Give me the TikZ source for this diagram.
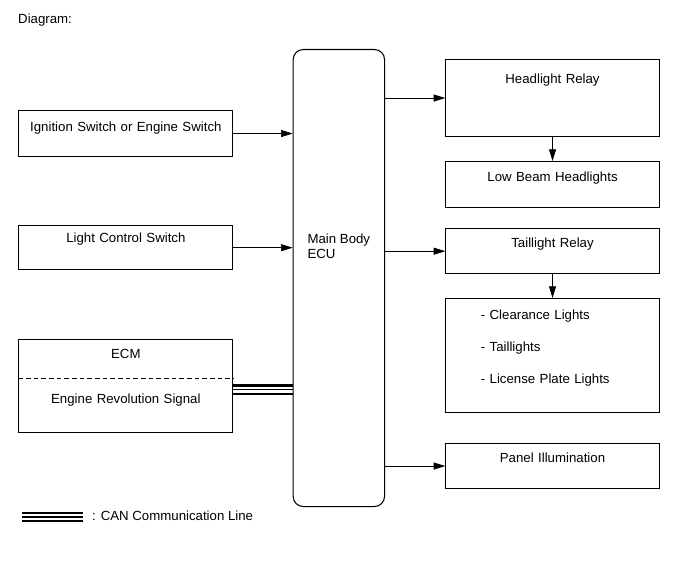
\documentclass[tikz,border=0pt]{standalone}
\usepackage{fontspec}
\setmainfont{Liberation Sans}
\usetikzlibrary{arrows.meta,calc}

\begin{document}
\begin{tikzpicture}[font=\fontsize{11.3}{13.6}\selectfont,
  rec/.style={draw,line width=0.9pt,anchor=north west,inner xsep=0pt,inner ysep=0pt,
    align=center,text width=#1},
  rec/.default=6.42cm,
  arr/.style={-{Triangle[length=3.5mm,width=2.1mm]},line width=0.6pt},
  can/.style={line width=#1}]
\useasboundingbox (0,0) rectangle (20.73,-16.92);
\node[anchor=base west,inner sep=0pt] (title) at (0.54,-0.70) {Diagram:};
% inputs
\node[rec,text height=0.63cm,text depth=0.75cm] (ign) at (0.55,-3.30)
  {Ignition Switch or Engine Switch};
\node[rec,text height=0.50cm,text depth=0.83cm] (lcs) at (0.55,-6.75)
  {Light Control Switch};
\node[rec,text height=0.58cm,text depth=2.20cm,
  font=\fontsize{11.3}{38.4}\selectfont] (ecm) at (0.55,-10.17)
  {ECM\\Engine Revolution Signal};
\draw[line width=0.7pt,dash pattern=on 1.4mm off 0.9mm]
  ($(ecm.north west)!0.424!(ecm.south west)$) -- ($(ecm.north east)!0.424!(ecm.south east)$);
% body ecu
\node[draw,line width=0.9pt,rounded corners=0.3cm,anchor=north west,inner sep=0pt,
  minimum width=2.74cm,align=left,text height=6.28cm,text depth=7.43cm,
  font=\fontsize{11.3}{12.8}\selectfont] (ecu) at (8.78,-1.47)
  {Main Body\\ECU};
% outputs
\node[rec=6.40cm,text height=0.70cm,text depth=1.59cm] (hlr) at (13.36,-1.78) {Headlight Relay};
\node[rec=6.40cm,text height=0.60cm,text depth=0.77cm] (lbh) at (13.36,-4.83) {Low Beam Headlights};
\node[rec=6.40cm,text height=0.55cm,text depth=0.79cm] (tlr) at (13.36,-6.85) {Taillight Relay};
\node[rec=4.30cm,align=left,inner xsep=1.05cm,text height=0.63cm,text depth=2.79cm,
  font=\fontsize{11.3}{27.3}\selectfont] (lamps) at (13.36,-8.94)
  {- Clearance Lights\\- Taillights\\- License Plate Lights};
\node[rec=6.40cm,text height=0.57cm,text depth=0.78cm] (pnl) at (13.36,-13.29) {Panel Illumination};
% signals
\draw[arr] (ign.east) -- (ign.east -| ecu.west);
\draw[arr] (lcs.east) -- (lcs.east -| ecu.west);
\draw[arr] (hlr.west -| ecu.east) -- (hlr.west);
\draw[arr] (tlr.west -| ecu.east) -- (tlr.west);
\draw[arr] (pnl.west -| ecu.east) -- (pnl.west);
\draw[arr] (hlr.south) -- (lbh.north);
\draw[arr] (tlr.south) -- (lamps.north);
% CAN line and legend
\foreach \dy/\lw in {0.01/1.8pt,-0.12/0.9pt,-0.25/1.8pt}
  \draw[can=\lw] ([yshift=\dy cm]ecm.east) -- ([yshift=\dy cm]ecm.east -| ecu.west);
\coordinate (canA) at (0.66,-15.39);
\coordinate (canB) at (2.49,-15.39);
\foreach \dy/\lw in {0/1.8pt,-0.12/0.9pt,-0.25/1.8pt}
  \draw[can=\lw] ([yshift=\dy cm]canA) -- ([yshift=\dy cm]canB);
\node[anchor=base west,inner sep=0pt] (canlbl) at (2.76,-15.62) {: CAN Communication Line};
\end{tikzpicture}
\end{document}
